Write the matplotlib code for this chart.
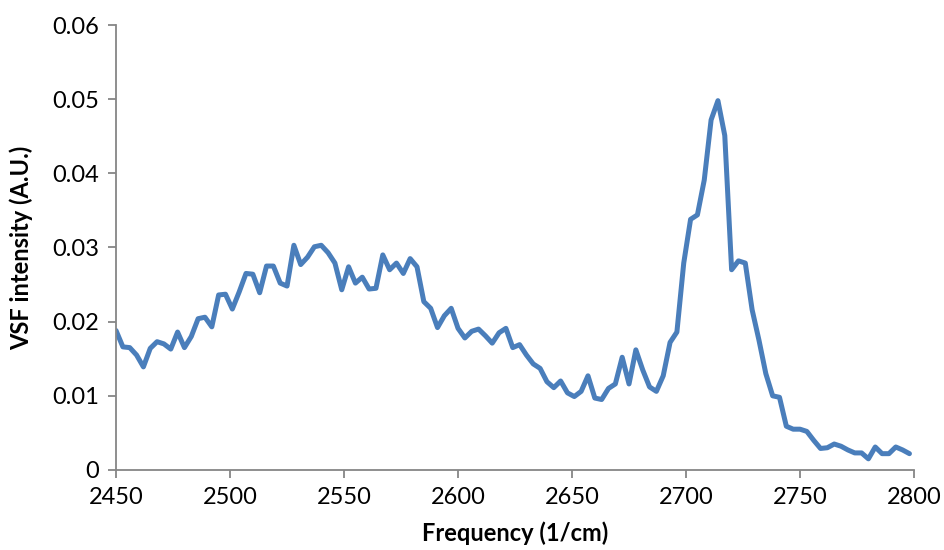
import matplotlib
matplotlib.use("Agg")
import matplotlib.pyplot as plt
import numpy as np

# VSF spectrum, sampled every 3 cm^-1
freq = np.arange(2450, 2799, 3)
intensity = [
    0.0188, 0.0166, 0.0165, 0.0155, 0.0139, 0.0164, 0.0173, 0.0170, 0.0163, 0.0186,
    0.0165, 0.0180, 0.0204, 0.0206, 0.0193, 0.0236, 0.0237, 0.0217, 0.0240, 0.0265,
    0.0264, 0.0239, 0.0275, 0.0275, 0.0252, 0.0248, 0.0303, 0.0277, 0.0287, 0.0301,
    0.0303, 0.0293, 0.0279, 0.0243, 0.0274, 0.0252, 0.0260, 0.0244, 0.0245, 0.0290,
    0.0270, 0.0279, 0.0265, 0.0285, 0.0274, 0.0227, 0.0218, 0.0192, 0.0208, 0.0218,
    0.0191, 0.0178, 0.0187, 0.0190, 0.0181, 0.0171, 0.0185, 0.0191, 0.0165, 0.0169,
    0.0155, 0.0143, 0.0137, 0.0119, 0.0111, 0.0120, 0.0104, 0.0099, 0.0106, 0.0127,
    0.0097, 0.0095, 0.0110, 0.0116, 0.0152, 0.0116, 0.0162, 0.0135, 0.0112, 0.0106,
    0.0127, 0.0172, 0.0186, 0.0279, 0.0338, 0.0344, 0.0391, 0.0472, 0.0498, 0.0451,
    0.0270, 0.0282, 0.0279, 0.0216, 0.0175, 0.0130, 0.0100, 0.0098, 0.0059, 0.0055,
    0.0055, 0.0052, 0.0040, 0.0029, 0.0030, 0.0035, 0.0032, 0.0027, 0.0023, 0.0023,
    0.0015, 0.0031, 0.0022, 0.0022, 0.0031, 0.0027, 0.0022,
]

xticks = [2450, 2500, 2550, 2600, 2650, 2700, 2750, 2800]
yticks = [0, 0.01, 0.02, 0.03, 0.04, 0.05, 0.06]
ytick_labels = ["0", "0.01", "0.02", "0.03", "0.04", "0.05", "0.06"]

plt.rcParams['font.family'] = ['Lato', 'DejaVu Sans']

fig = plt.figure(figsize=(9.45, 5.5), dpi=100)
ax = fig.add_axes([0.1228, 0.1455, 0.8444, 0.8090])

ax.plot(freq[:len(intensity)], intensity, color='#4a7ebb', lw=3.6,
        solid_joinstyle='round', solid_capstyle='round')

ax.set_xlim(2450, 2800)
ax.set_ylim(0, 0.06)
ax.set_xticks(xticks)
ax.set_yticks(yticks)
ax.set_yticklabels(ytick_labels)

grey = '#868686'
for side in ['top', 'right']:
    ax.spines[side].set_visible(False)
for side in ['left', 'bottom']:
    ax.spines[side].set_color(grey)
    ax.spines[side].set_linewidth(1.3)
ax.tick_params(direction='out', length=6, width=1.3, color=grey,
               labelsize=17, labelcolor='black', pad=6)

ax.set_xlabel('Frequency (1/cm)', fontsize=17, fontweight='bold', labelpad=10)
ax.set_ylabel('VSF intensity (A.U.)', fontsize=17, fontweight='bold', labelpad=14)

fig.savefig('out.png', dpi=100)
